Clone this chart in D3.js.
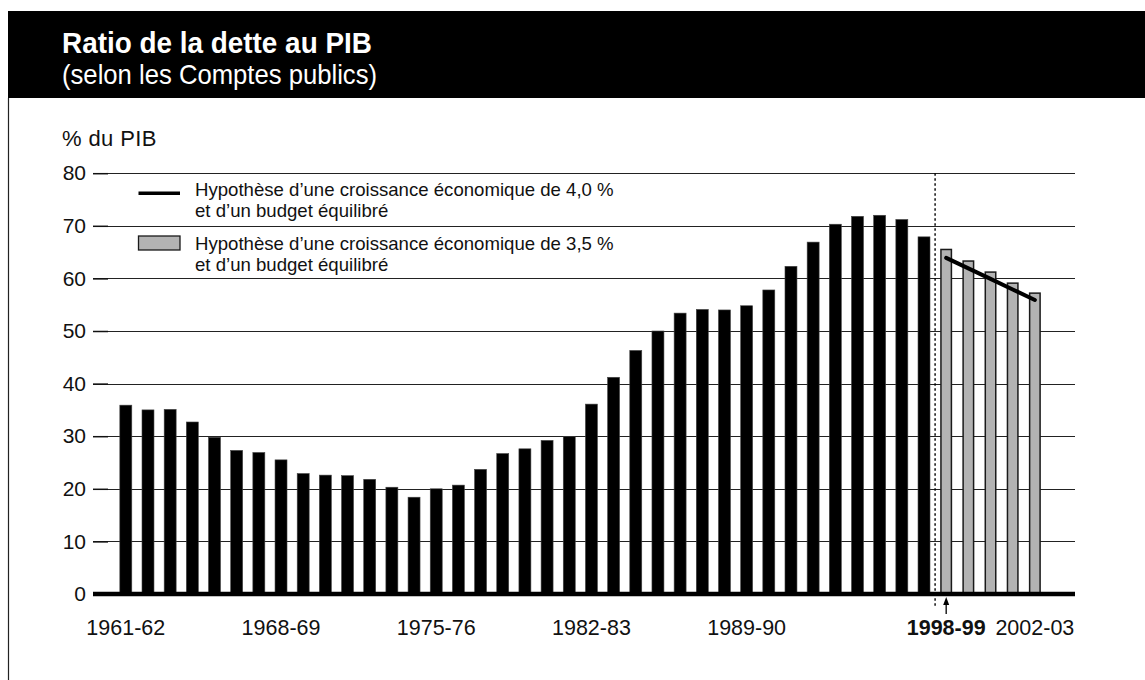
<!DOCTYPE html>
<html lang="fr">
<head>
<meta charset="utf-8">
<script src="https://cdn.jsdelivr.net/npm/d3@7"></script>
<style>
  html, body { margin: 0; padding: 0; background: #fff; }
  svg { display: block; font-family: "Liberation Sans", Arial, Helvetica, sans-serif; }
</style>
</head>
<body>
<svg id="chart" width="1145" height="680"></svg>
<script>
// Fiscal years on the x axis
const years = [
  "1961-62","1962-63","1963-64","1964-65","1965-66","1966-67","1967-68",
  "1968-69","1969-70","1970-71","1971-72","1972-73","1973-74","1974-75",
  "1975-76","1976-77","1977-78","1978-79","1979-80","1980-81","1981-82",
  "1982-83","1983-84","1984-85","1985-86","1986-87","1987-88","1988-89",
  "1989-90","1990-91","1991-92","1992-93","1993-94","1994-95","1995-96",
  "1996-97","1997-98","1998-99","1999-00","2000-01","2001-02","2002-03"
];

// Debt-to-GDP ratio (% of GDP), actual results 1961-62 to 1997-98
const actualRatio = [
  35.9, 35.0, 35.1, 32.7, 29.8, 27.3, 26.9, 25.5, 22.9, 22.6,
  22.5, 21.8, 20.3, 18.4, 20.0, 20.7, 23.7, 26.7, 27.6, 29.2,
  29.9, 36.1, 41.2, 46.3, 50.0, 53.4, 54.1, 54.0, 54.8, 57.8,
  62.3, 66.9, 70.3, 71.8, 72.0, 71.2, 67.9
];

// Projection, 3.5 % growth and balanced budget (1998-99 to 2002-03)
const projectedYears = ["1998-99","1999-00","2000-01","2001-02","2002-03"];
const projection35 = [65.5, 63.3, 61.2, 59.1, 57.2];

// Projection, 4.0 % growth and balanced budget
const projection40 = [63.9, 61.9, 59.9, 57.9, 55.9];

const yTicks = [0, 10, 20, 30, 40, 50, 60, 70, 80];
const xTickLabels = ["1961-62","1968-69","1975-76","1982-83","1989-90","1998-99","2002-03"];
const boldTick = "1998-99";

const legendItems = [
  { kind: "line", lines: ["Hypothèse d’une croissance économique de 4,0 %", "et d’un budget équilibré"] },
  { kind: "bar",  lines: ["Hypothèse d’une croissance économique de 3,5 %", "et d’un budget équilibré"] }
];

const svg = d3.select("#chart");
const W = 1145, H = 680;

// Header band
svg.append("rect").attr("x", 8).attr("y", 11).attr("width", W - 8).attr("height", 87).attr("fill", "#000");
svg.append("line").attr("x1", 8.5).attr("x2", 8.5).attr("y1", 98).attr("y2", H)
  .attr("stroke", "#222").attr("stroke-width", 1.2);

svg.append("text")
  .attr("transform", "translate(62,53) scale(0.93,1)")
  .attr("fill", "#fff").attr("font-weight", "bold").attr("font-size", 30)
  .text("Ratio de la dette au PIB");
svg.append("text")
  .attr("transform", "translate(62,84) scale(0.9,1)")
  .attr("fill", "#fff").attr("font-size", 28.5)
  .text("(selon les Comptes publics)");

// Plot frame
const plotLeft = 93, plotRight = 1075;
const x = d3.scaleBand().domain(years).range([plotLeft, plotRight])
  .paddingInner(0.46).paddingOuter(1.375).align(0.44);
const y = d3.scaleLinear().domain([0, 80]).range([594, 173.2]);

// Unit label
svg.append("text").attr("x", 62).attr("y", 146).attr("font-size", 22)
  .attr("letter-spacing", 0.4).attr("fill", "#111")
  .text("% du PIB");

// Gridlines
svg.append("g").selectAll("line").data(yTicks.filter(d => d > 0)).join("line")
  .attr("x1", plotLeft).attr("x2", plotRight)
  .attr("y1", d => Math.round(y(d)) + 0.5).attr("y2", d => Math.round(y(d)) + 0.5)
  .attr("stroke", "#222").attr("stroke-width", 1.1);

// Y axis with short ticks
const yAxis = d3.axisLeft(y).tickValues(yTicks).tickSize(0).tickPadding(0);
const yAxisG = svg.append("g").attr("transform", `translate(${plotLeft},0)`).call(yAxis);
yAxisG.select(".domain").remove();
yAxisG.selectAll(".tick text")
  .attr("x", -7).attr("font-size", 21).attr("fill", "#111")
  .attr("font-family", "'Liberation Sans', Arial, sans-serif");
yAxisG.selectAll(".tick").append("line")
  .attr("x1", 0).attr("x2", 15).attr("stroke", "#111").attr("stroke-width", 1.5);

// Actual bars
svg.append("g").selectAll("rect").data(actualRatio).join("rect")
  .attr("x", (d, i) => x(years[i]))
  .attr("y", d => y(d))
  .attr("width", x.bandwidth())
  .attr("height", d => y(0) - y(d))
  .attr("fill", "#000")
  .attr("stroke", "#444").attr("stroke-width", 0.6);

// Projected bars (3.5 % growth)
svg.append("g").selectAll("rect").data(projection35).join("rect")
  .attr("x", (d, i) => x(projectedYears[i]) + 0.75)
  .attr("y", d => y(d))
  .attr("width", x.bandwidth() - 1.5)
  .attr("height", d => y(0) - y(d))
  .attr("fill", "#b3b3b3")
  .attr("stroke", "#1a1a1a").attr("stroke-width", 1.5);

// Zero axis line
svg.append("line").attr("x1", plotLeft).attr("x2", plotRight)
  .attr("y1", y(0)).attr("y2", y(0)).attr("stroke", "#000").attr("stroke-width", 4.5);

// Projection line (4.0 % growth)
const line = d3.line()
  .x((d, i) => x(projectedYears[i]) + x.bandwidth() / 2)
  .y(d => y(d));
svg.append("path").datum(projection40).attr("d", line)
  .attr("fill", "none").attr("stroke", "#000").attr("stroke-width", 4).attr("stroke-linecap", "round");

// Dotted separator between actual and projected years
const sepX = (x(years[36]) + x.bandwidth() + x(years[37])) / 2;
svg.append("line").attr("x1", sepX).attr("x2", sepX).attr("y1", y(80)).attr("y2", 607)
  .attr("stroke", "#000").attr("stroke-width", 1.4).attr("stroke-dasharray", "2.5,2.5");

// Arrow under 1998-99
const arrowX = x("1998-99") + x.bandwidth() / 2;
svg.append("line").attr("x1", arrowX).attr("x2", arrowX).attr("y1", 614).attr("y2", 600)
  .attr("stroke", "#000").attr("stroke-width", 1.3);
svg.append("path")
  .attr("d", `M${arrowX},597 L${arrowX - 3},605 L${arrowX + 3},605 Z`)
  .attr("fill", "#000");

// X labels
svg.append("g").selectAll("text").data(xTickLabels).join("text")
  .attr("x", d => x(d) + x.bandwidth() / 2)
  .attr("y", 635)
  .attr("text-anchor", "middle")
  .attr("font-size", 21.5)
  .attr("font-weight", d => d === boldTick ? "bold" : "normal")
  .attr("fill", "#111")
  .text(d => d);

// Legend
const legend = svg.append("g");
legendItems.forEach((item, k) => {
  const top = 194 + k * 54;
  if (item.kind === "line") {
    legend.append("line").attr("x1", 138.5).attr("x2", 180).attr("y1", top - 0.7).attr("y2", top - 0.7)
      .attr("stroke", "#000").attr("stroke-width", 3.5);
  } else {
    legend.append("rect").attr("x", 138.5).attr("y", top - 12).attr("width", 41.5).attr("height", 14)
      .attr("fill", "#b3b3b3").attr("stroke", "#1a1a1a").attr("stroke-width", 1.3);
  }
  item.lines.forEach((t, j) => {
    legend.append("text").attr("x", 195).attr("y", top + 2 + j * 20.5)
      .attr("font-size", 18.6).attr("fill", "#111").text(t);
  });
});
</script>
</body>
</html>
